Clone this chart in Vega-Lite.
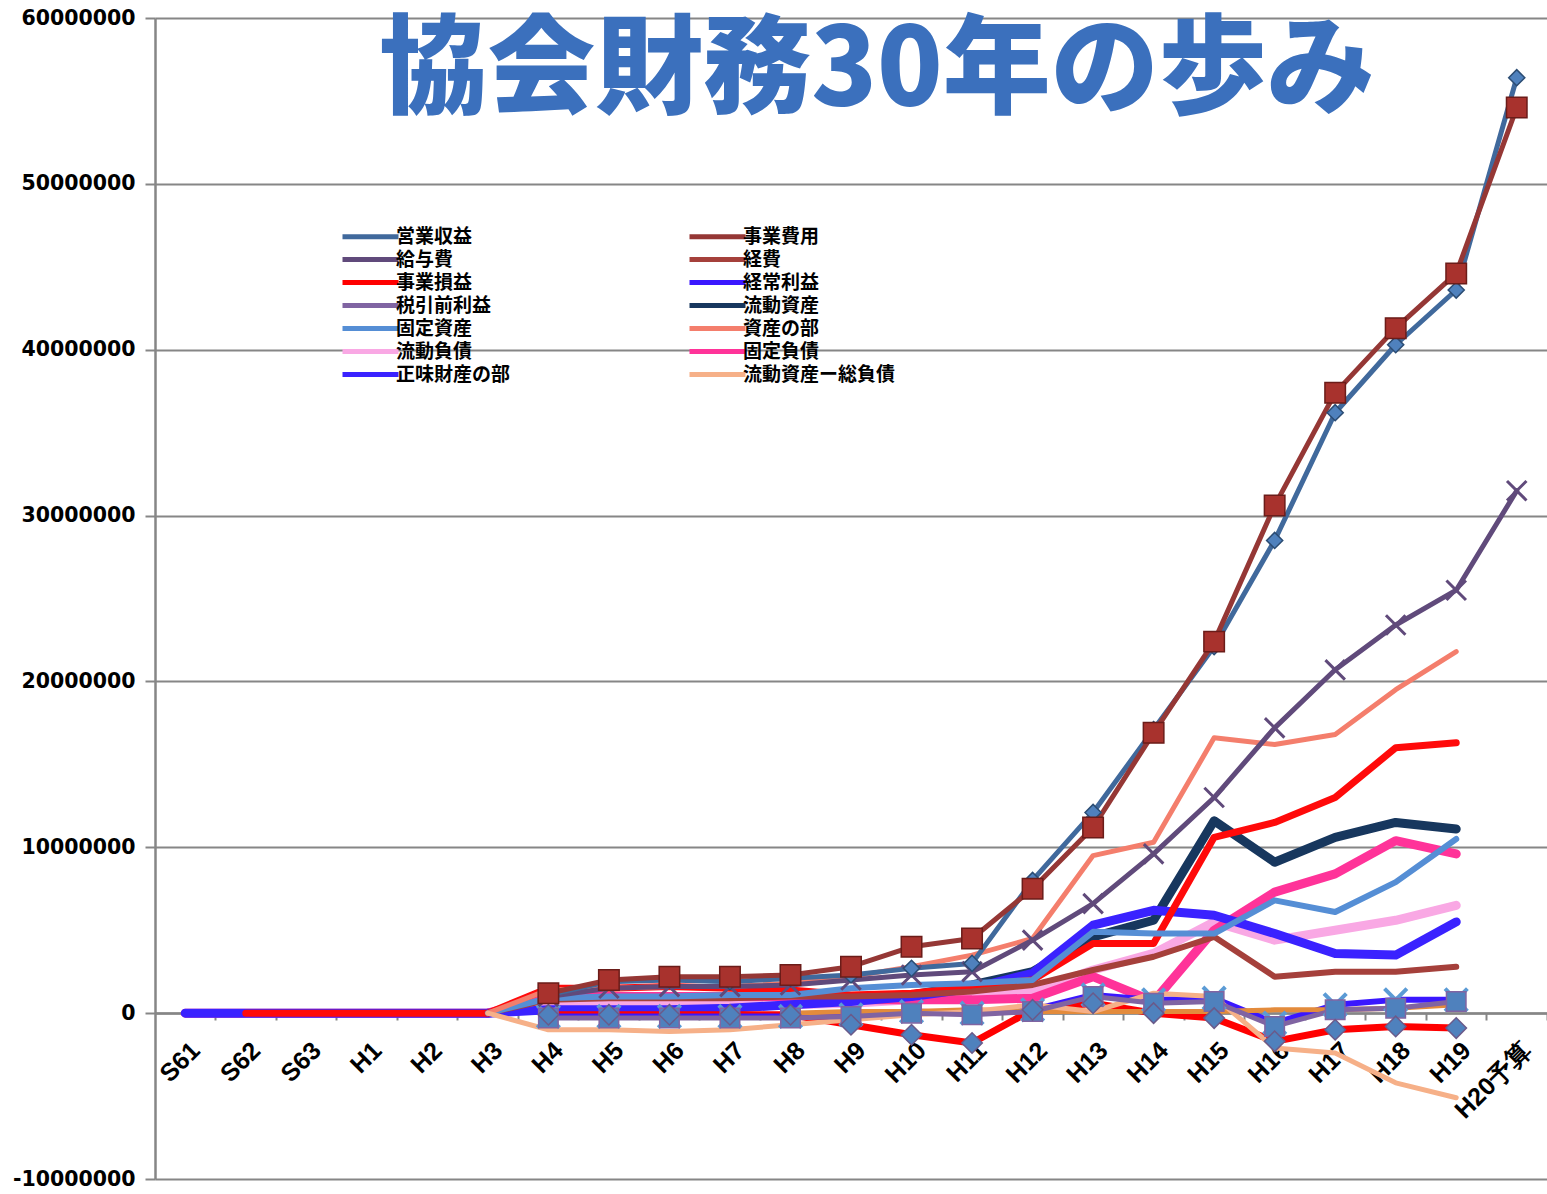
{
  "$schema": "https://vega.github.io/schema/vega-lite/v6.json",
  "width": 1392,
  "height": 1161,
  "autosize": {"type": "none"},
  "padding": {"left": 155, "top": 18, "right": 0, "bottom": 15},
  "background": "#ffffff",
  "title": {
    "text": "協会財務30年の歩み",
    "font": "Noto Sans CJK JP",
    "fontSize": 108,
    "fontWeight": 900,
    "color": "#3b70bd",
    "anchor": "middle",
    "frame": "group",
    "baseline": "top",
    "offset": -120,
    "dx": 26
  },
  "data": {
    "values": [
      {"年": "S61", "固定負債": 0, "正味財産の部": 0},
      {"年": "S62", "固定負債": 0, "正味財産の部": 0, "負債の部": 0},
      {"年": "S63", "固定負債": 0, "正味財産の部": 0, "負債の部": 0},
      {"年": "H1", "固定負債": 0, "正味財産の部": 0, "負債の部": 0},
      {"年": "H2", "固定負債": 0, "正味財産の部": 0, "負債の部": 0},
      {"年": "H3", "経費": 0, "流動資産": 0, "固定資産": 0, "資産の部": 0, "流動負債": 0, "固定負債": 0, "正味財産の部": 0, "負債の部": 0, "流動資産ー総負債": 0},
      {"年": "H4", "営業収益": 1100000, "事業費用": 1200000, "給与費": 1000000, "経費": 800000, "事業損益": -100000, "経常利益": -200000, "税引前利益": -300000, "流動資産": 500000, "固定資産": 900000, "資産の部": 1400000, "流動負債": 500000, "固定負債": 1000000, "正味財産の部": 200000, "流動資産ー総負債": -1000000, "負債の部": 1500000},
      {"年": "H5", "営業収益": 1900000, "事業費用": 2000000, "給与費": 1500000, "経費": 900000, "事業損益": -100000, "経常利益": -200000, "税引前利益": -300000, "流動資産": 500000, "固定資産": 1000000, "資産の部": 1500000, "流動負債": 500000, "固定負債": 1000000, "正味財産の部": 200000, "流動資産ー総負債": -1000000, "負債の部": 1500000},
      {"年": "H6", "営業収益": 2000000, "事業費用": 2200000, "給与費": 1600000, "経費": 900000, "事業損益": -100000, "経常利益": -200000, "税引前利益": -300000, "流動資産": 600000, "固定資産": 1000000, "資産の部": 1600000, "流動負債": 500000, "固定負債": 1000000, "正味財産の部": 200000, "流動資産ー総負債": -1100000, "負債の部": 1600000},
      {"年": "H7", "営業収益": 1900000, "事業費用": 2200000, "給与費": 1600000, "経費": 900000, "事業損益": -100000, "経常利益": -200000, "税引前利益": -300000, "流動資産": 500000, "固定資産": 1100000, "資産の部": 1600000, "流動負債": 500000, "固定負債": 1000000, "正味財産の部": 300000, "流動資産ー総負債": -1000000, "負債の部": 1500000},
      {"年": "H8", "営業収益": 2100000, "事業費用": 2300000, "給与費": 1700000, "経費": 1000000, "事業損益": -100000, "経常利益": -200000, "税引前利益": -300000, "流動資産": 700000, "固定資産": 1100000, "資産の部": 1800000, "流動負債": 500000, "固定負債": 1000000, "正味財産の部": 500000, "流動資産ー総負債": -700000, "負債の部": 1400000, "その他": 0},
      {"年": "H9", "営業収益": 2300000, "事業費用": 2800000, "給与費": 2000000, "経費": 1000000, "事業損益": -700000, "経常利益": -100000, "税引前利益": -200000, "流動資産": 700000, "固定資産": 1500000, "資産の部": 2200000, "流動負債": 600000, "固定負債": 800000, "正味財産の部": 700000, "流動資産ー総負債": -400000, "負債の部": 1100000, "その他": 100000},
      {"年": "H10", "営業収益": 2700000, "事業費用": 4000000, "給与費": 2300000, "経費": 1100000, "事業損益": -1300000, "経常利益": 100000, "税引前利益": 0, "流動資産": 1100000, "固定資産": 1700000, "資産の部": 2800000, "流動負債": 800000, "固定負債": 800000, "正味財産の部": 1000000, "流動資産ー総負債": -100000, "負債の部": 1200000, "その他": 100000},
      {"年": "H11", "営業収益": 3000000, "事業費用": 4500000, "給与費": 2500000, "経費": 1300000, "事業損益": -1800000, "経常利益": 0, "税引前利益": -100000, "流動資産": 1700000, "固定資産": 1800000, "資産の部": 3500000, "流動負債": 1000000, "固定負債": 800000, "正味財産の部": 1500000, "流動資産ー総負債": 100000, "負債の部": 1600000, "その他": 200000},
      {"年": "H12", "営業収益": 8000000, "事業費用": 7500000, "給与費": 4400000, "経費": 1700000, "事業損益": 200000, "経常利益": 200000, "税引前利益": 100000, "流動資産": 2500000, "固定資産": 2000000, "資産の部": 4500000, "流動負債": 1300000, "固定負債": 900000, "正味財産の部": 2400000, "流動資産ー総負債": 500000, "負債の部": 2000000, "その他": 100000},
      {"年": "H13", "営業収益": 12100000, "事業費用": 11200000, "給与費": 6600000, "経費": 2600000, "事業損益": 600000, "経常利益": 1100000, "税引前利益": 1000000, "流動資産": 4600000, "固定資産": 4900000, "資産の部": 9500000, "流動負債": 2600000, "固定負債": 2200000, "正味財産の部": 5300000, "流動資産ー総負債": 100000, "負債の部": 4200000, "その他": 100000},
      {"年": "H14", "営業収益": 17100000, "事業費用": 16900000, "給与費": 9600000, "経費": 3400000, "事業損益": 0, "経常利益": 800000, "税引前利益": 600000, "流動資産": 5600000, "固定資産": 4800000, "資産の部": 10300000, "流動負債": 3600000, "固定負債": 700000, "正味財産の部": 6200000, "流動資産ー総負債": 1200000, "負債の部": 4200000, "その他": 100000},
      {"年": "H15", "営業収益": 22100000, "事業費用": 22400000, "給与費": 13000000, "経費": 4600000, "事業損益": -300000, "経常利益": 900000, "税引前利益": 700000, "流動資産": 11600000, "固定資産": 4800000, "資産の部": 16600000, "流動負債": 5500000, "固定負債": 5000000, "正味財産の部": 5900000, "流動資産ー総負債": 1000000, "負債の部": 10600000, "その他": 100000},
      {"年": "H16", "営業収益": 28500000, "事業費用": 30600000, "給与費": 17200000, "経費": 2200000, "事業損益": -1700000, "経常利益": -600000, "税引前利益": -800000, "流動資産": 9100000, "固定資産": 6800000, "資産の部": 16200000, "流動負債": 4400000, "固定負債": 7300000, "正味財産の部": 4800000, "流動資産ー総負債": -2100000, "負債の部": 11500000, "その他": 200000},
      {"年": "H17", "営業収益": 36200000, "事業費用": 37400000, "給与費": 20700000, "経費": 2500000, "事業損益": -1000000, "経常利益": 500000, "税引前利益": 200000, "流動資産": 10600000, "固定資産": 6100000, "資産の部": 16800000, "流動負債": 5000000, "固定負債": 8400000, "正味財産の部": 3600000, "流動資産ー総負債": -2400000, "負債の部": 13000000, "その他": 200000},
      {"年": "H18", "営業収益": 40300000, "事業費用": 41300000, "給与費": 23400000, "経費": 2500000, "事業損益": -800000, "経常利益": 800000, "税引前利益": 300000, "流動資産": 11500000, "固定資産": 7900000, "資産の部": 19500000, "流動負債": 5600000, "固定負債": 10400000, "正味財産の部": 3500000, "流動資産ー総負債": -4200000, "負債の部": 16000000, "その他": 300000},
      {"年": "H19", "営業収益": 43600000, "事業費用": 44600000, "給与費": 25500000, "経費": 2800000, "事業損益": -900000, "経常利益": 800000, "税引前利益": 700000, "流動資産": 11100000, "固定資産": 10500000, "資産の部": 21800000, "流動負債": 6500000, "固定負債": 9600000, "正味財産の部": 5500000, "流動資産ー総負債": -5100000, "負債の部": 16300000, "その他": 500000},
      {"年": "H20予算", "営業収益": 56400000, "事業費用": 54600000, "給与費": 31500000}
    ]
  },
  "transform": [
    {"fold": ["その他", "経費", "流動資産", "固定資産", "資産の部", "流動負債", "固定負債", "負債の部", "正味財産の部", "流動資産ー総負債", "事業損益", "経常利益", "税引前利益", "給与費", "営業収益", "事業費用"], "as": ["系列", "値"]}
  ],
  "encoding": {
    "x": {
      "field": "年",
      "type": "ordinal",
      "sort": ["S61", "S62", "S63", "H1", "H2", "H3", "H4", "H5", "H6", "H7", "H8", "H9", "H10", "H11", "H12", "H13", "H14", "H15", "H16", "H17", "H18", "H19", "H20予算"],
      "scale": {"type": "point", "padding": 0.5},
      "axis": {
        "title": null,
        "offset": -166,
        "labelAngle": -45,
        "labelAlign": "right",
        "labelBaseline": "middle",
        "labelFont": "Liberation Sans",
        "labelFontSize": 25,
        "labelFontWeight": "bold",
        "labelColor": "#000000",
        "labelPadding": 26,
        "tickOffset": 30,
        "labelOffset": -20,
        "tickSize": 7,
        "tickColor": "#868686",
        "tickWidth": 2,
        "domainColor": "#868686",
        "domainWidth": 2.5,
        "grid": false,
        "labelOverlap": false,
        "labelBound": false
      }
    },
    "y": {
      "field": "値",
      "type": "quantitative",
      "scale": {"domain": [-10000000, 60000000], "nice": false, "zero": false},
      "axis": {
        "title": null,
        "values": [-10000000, 0, 10000000, 20000000, 30000000, 40000000, 50000000, 60000000],
        "labelExpr": "'' + datum.value",
        "grid": true,
        "gridColor": "#868686",
        "gridWidth": 2,
        "domainColor": "#868686",
        "domainWidth": 2.5,
        "tickColor": "#868686",
        "tickWidth": 2,
        "tickSize": 10,
        "labelPadding": 10,
        "labelFont": "DejaVu Sans",
        "labelFontSize": 20.5,
        "labelFontWeight": "bold",
        "labelColor": "#000000"
      }
    },
    "color": {
      "field": "系列",
      "type": "nominal",
      "scale": {
        "domain": ["営業収益", "事業費用", "給与費", "経費", "事業損益", "経常利益", "税引前利益", "流動資産", "固定資産", "資産の部", "流動負債", "固定負債", "正味財産の部", "流動資産ー総負債", "負債の部", "その他"],
        "range": ["#40699c", "#953735", "#604a7b", "#a5403b", "#ff0000", "#3a17ff", "#8064a2", "#17375e", "#558ed5", "#f47e6c", "#f9a8e4", "#ff3399", "#3a22ff", "#f6b088", "#ff0a0a", "#e38b3c"]
      },
      "legend": {
        "values": ["営業収益", "給与費", "事業損益", "税引前利益", "固定資産", "流動負債", "正味財産の部", "事業費用", "経費", "経常利益", "流動資産", "資産の部", "固定負債", "流動資産ー総負債"],
        "orient": "none",
        "legendX": 185,
        "legendY": 209,
        "columns": 2,
        "title": null,
        "symbolType": "stroke",
        "symbolSize": 3136,
        "symbolStrokeWidth": 5,
        "clipHeight": 19,
        "rowPadding": 3,
        "columnPadding": 176,
        "labelFont": "Noto Sans CJK JP",
        "labelFontSize": 19,
        "labelFontWeight": "bold",
        "labelColor": "#000000",
        "labelOffset": -5,
        "labelLimit": 300,
        "padding": 0
      }
    }
  },
  "layer": [
    {
      "transform": [{"filter": {"field": "系列", "oneOf": ["流動資産", "流動負債", "固定負債", "正味財産の部"]}}],
      "mark": {"type": "line", "strokeWidth": 9, "strokeCap": "round", "strokeJoin": "round"}
    },
    {
      "transform": [{"filter": {"field": "系列", "oneOf": ["事業損益", "負債の部"]}}],
      "mark": {"type": "line", "strokeWidth": 7, "strokeCap": "round", "strokeJoin": "round"}
    },
    {
      "transform": [{"filter": {"field": "系列", "oneOf": ["経費", "固定資産", "経常利益"]}}],
      "mark": {"type": "line", "strokeWidth": 6, "strokeCap": "round", "strokeJoin": "round"}
    },
    {
      "transform": [{"filter": {"field": "系列", "oneOf": ["その他", "資産の部", "流動資産ー総負債", "税引前利益", "給与費", "営業収益", "事業費用"]}}],
      "mark": {"type": "line", "strokeWidth": 5, "strokeCap": "round", "strokeJoin": "round"}
    },
    {
      "transform": [{"filter": {"field": "系列", "equal": "経常利益"}}],
      "mark": {"type": "point", "shape": "M-1,-1L1,1M-1,1L1,-1", "filled": false, "strokeWidth": 4, "size": 500, "opacity": 1},
      "encoding": {"color": {"value": "#5b9bd5"}}
    },
    {
      "transform": [{"filter": {"field": "系列", "equal": "税引前利益"}}],
      "mark": {"type": "point", "shape": "square", "filled": true, "stroke": "#8064a2", "strokeWidth": 1.5, "size": 380, "opacity": 1},
      "encoding": {"color": {"value": "#4f81bd"}}
    },
    {
      "transform": [{"filter": {"field": "系列", "equal": "事業損益"}}],
      "mark": {"type": "point", "shape": "diamond", "filled": true, "stroke": "#6a5a8a", "strokeWidth": 1.5, "size": 420, "opacity": 1},
      "encoding": {"color": {"value": "#4f81bd"}}
    },
    {
      "transform": [{"filter": {"field": "系列", "equal": "給与費"}}],
      "mark": {"type": "point", "shape": "M-1,-1L1,1M-1,1L1,-1", "filled": false, "strokeWidth": 3, "size": 380, "opacity": 1},
      "encoding": {"color": {"value": "#604a7b"}}
    },
    {
      "transform": [{"filter": {"field": "系列", "equal": "営業収益"}}],
      "mark": {"type": "point", "shape": "diamond", "filled": true, "stroke": "#2b4c73", "strokeWidth": 1.5, "size": 260, "opacity": 1},
      "encoding": {"color": {"value": "#4f81bd"}}
    },
    {
      "transform": [{"filter": {"field": "系列", "equal": "事業費用"}}],
      "mark": {"type": "point", "shape": "square", "filled": true, "stroke": "#6b1c19", "strokeWidth": 1.5, "size": 420, "opacity": 1},
      "encoding": {"color": {"value": "#a8322d"}}
    }
  ],
  "config": {
    "view": {"stroke": null}
  }
}
